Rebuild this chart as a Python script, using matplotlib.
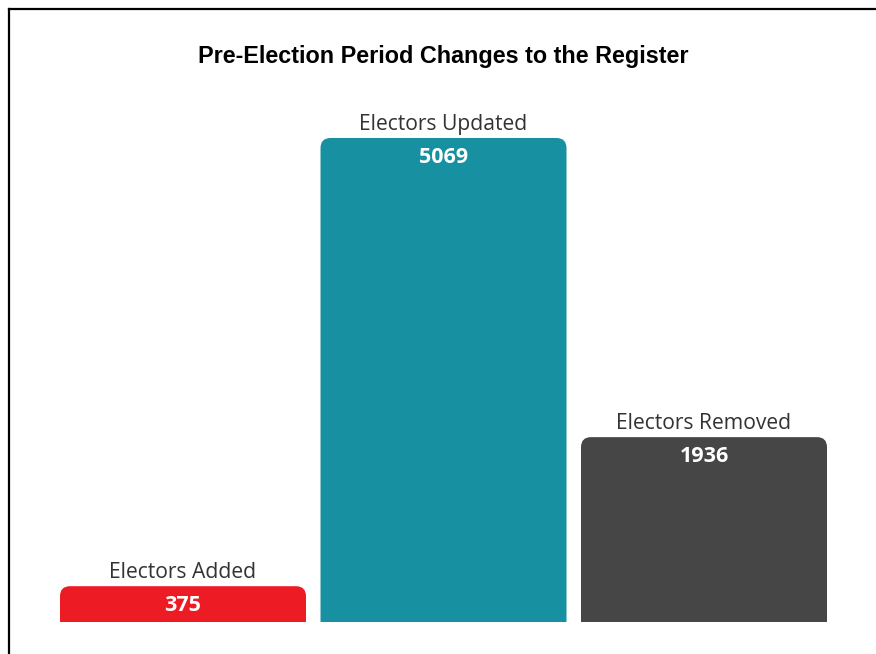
import matplotlib
matplotlib.use("Agg")
import matplotlib.pyplot as plt
from matplotlib.patches import FancyBboxPatch
from matplotlib.lines import Line2D

# --- datos ---
categories = ["Electors Added", "Electors Updated", "Electors Removed"]
values = [375, 5069, 1936]
colors = ["#ED1C24", "#1791A1", "#464646"]
title = "Pre-Election Period Changes to the Register"

W, H = 876, 654
fig = plt.figure(figsize=(W / 100, H / 100), dpi=100)

# marco: linea superior y borde izquierdo
fig.add_artist(Line2D([9 / W, 1], [1 - 9 / H, 1 - 9 / H], color="black", lw=1.6))
fig.add_artist(Line2D([9 / W, 9 / W], [0, 1 - 9 / H], color="black", lw=1.6))

# ejes en pixeles: x 60..827, y 622 (base) .. 100
ax_l, ax_r, ax_b, ax_t = 60, 827, 622, 100
ax = fig.add_axes([ax_l / W, 1 - ax_b / H, (ax_r - ax_l) / W, (ax_b - ax_t) / H])
width = 246 / 260.5
ax.set_xlim(-width / 2, len(values) - 1 + width / 2)
ymax = max(values) * (ax_b - ax_t) / (ax_b - 138)
ax.set_ylim(0, ymax)
ax.axis("off")

# radio de las esquinas (~10 px)
px_x = (ax_r - ax_l) / (ax.get_xlim()[1] - ax.get_xlim()[0])
px_y = (ax_b - ax_t) / ymax
rx = 10 / px_x
ry = 10 / px_y

for i, (cat, val, col) in enumerate(zip(categories, values, colors)):
    box = FancyBboxPatch((i - width / 2, -ry * 2), width, val + ry * 2,
                         boxstyle=f"round,pad=0,rounding_size={rx}",
                         mutation_aspect=ry / rx,
                         facecolor=col, edgecolor="none", clip_on=True)
    ax.add_patch(box)
    ax.annotate(str(val), (i, val), xytext=(0, -6.5), textcoords="offset points",
                ha="center", va="top", color="white", fontsize=15.5,
                fontweight="bold", family="Open Sans")
    ax.annotate(cat, (i, val), xytext=(0, 2), textcoords="offset points",
                ha="center", va="bottom", color="#333333", fontsize=15.2,
                family="Open Sans", annotation_clip=False)

fig.text(443 / W, 1 - 56 / H, title, ha="center", va="center",
         fontsize=16.8, fontweight="bold", family="Liberation Sans")

fig.savefig("out.png", dpi=100)
